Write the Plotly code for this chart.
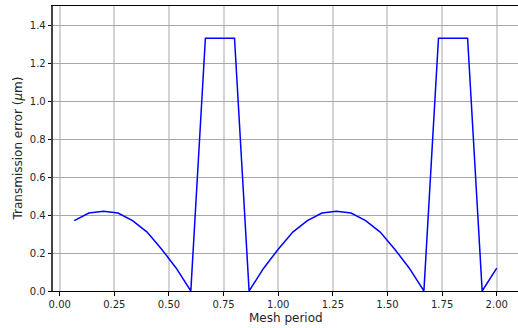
import plotly.graph_objects as go

mesh_period = [k / 15 for k in range(1, 31)]
transmission_error = [0.37, 0.41, 0.42, 0.41, 0.37, 0.31, 0.22, 0.12, 0.0,
                      1.33, 1.33, 1.33, 0.0, 0.12, 0.22, 0.31, 0.37, 0.41,
                      0.42, 0.41, 0.37, 0.31, 0.22, 0.12, 0.0,
                      1.33, 1.33, 1.33, 0.0, 0.12]
x_ticks = [0.0, 0.25, 0.5, 0.75, 1.0, 1.25, 1.5, 1.75, 2.0]
y_ticks = [0.0, 0.2, 0.4, 0.6, 0.8, 1.0, 1.2, 1.4]

fig = go.Figure(go.Scatter(x=mesh_period, y=transmission_error, mode="lines",
                           line=dict(color="#0000ff", width=1.5)))

font = "DejaVu Sans, sans-serif"
fig.update_layout(
    width=518, height=328,
    margin=dict(l=53, r=0, t=6, b=37, autoexpand=False),
    paper_bgcolor="white", plot_bgcolor="white",
    showlegend=False,
    font=dict(family=font, size=10, color="#262626"),
    annotations=[
        dict(text="Mesh period", xref="paper", yref="paper", x=0.5, y=0,
             yshift=-27, xanchor="center", yanchor="middle", showarrow=False,
             font=dict(size=12, family=font, color="#262626")),
        dict(text="Transmission error (<i>μ</i>m)", xref="paper", yref="paper",
             x=0, y=0.5, xshift=-36, textangle=-90, xanchor="center",
             yanchor="middle", showarrow=False,
             font=dict(size=12, family=font, color="#262626")),
    ],
)
fig.update_xaxes(
    range=[-0.0307, 2.0973], tickvals=x_ticks, tickformat=".2f",
    showgrid=True, gridcolor="#d3d3d3", gridwidth=1.8,
    showline=True, linecolor="black", linewidth=1, mirror=True,
    ticks="outside", ticklen=3.5, tickcolor="black",
    zeroline=False, automargin=False,
)
fig.update_yaxes(
    range=[0, 1.5], tickvals=y_ticks, tickformat=".1f",
    showgrid=True, gridcolor="#a8a8a8", gridwidth=1,
    showline=True, linecolor="#444444", linewidth=1.6,
    ticks="outside", ticklen=3.5, tickcolor="black",
    zeroline=False, automargin=False,
)
fig.write_html("out.html", config={"displayModeBar": False},
               post_script="document.body.style.margin='0';")
